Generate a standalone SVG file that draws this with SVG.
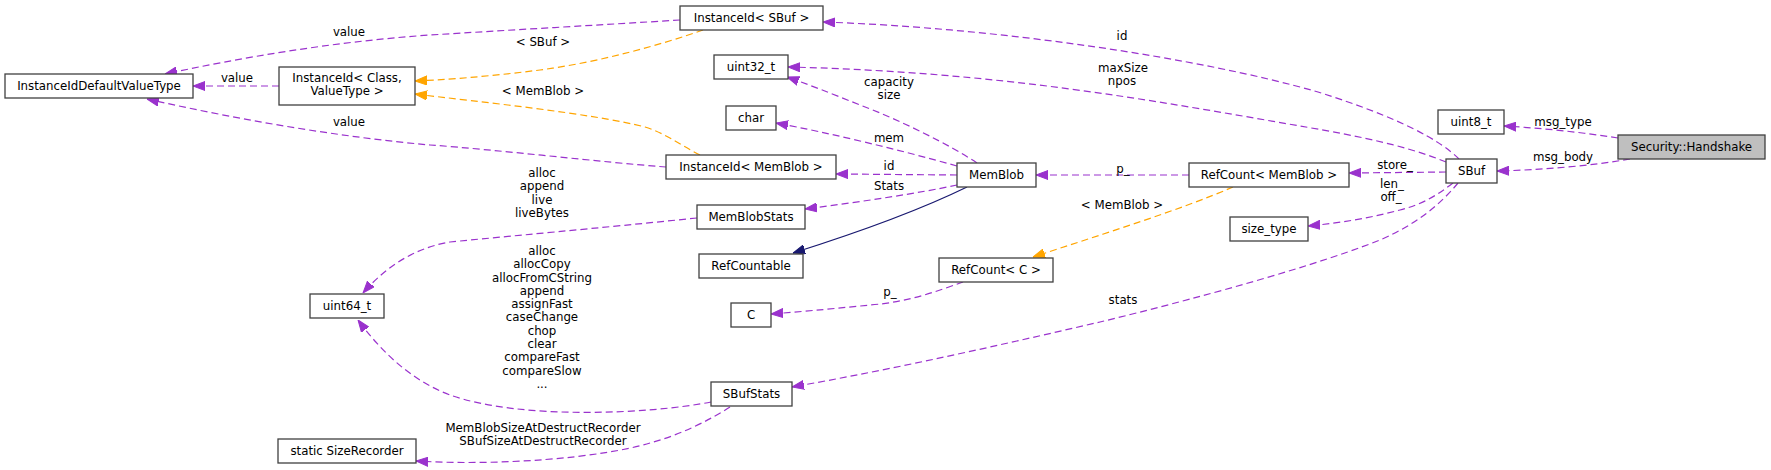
<svg xmlns="http://www.w3.org/2000/svg" width="1771" height="470" viewBox="0 0 1771 470">
<style>
text{font-family:"DejaVu Sans","Liberation Sans",sans-serif;font-size:11.8px;fill:#000;text-anchor:middle}
.n rect{fill:#fff;stroke:#404040;stroke-width:1.3}
.n.g rect{fill:#bfbfbf}
.e{fill:none;stroke:#9a32cd;stroke-width:1.2;stroke-dasharray:7,4}
.o{fill:none;stroke:#ffa500;stroke-width:1.2;stroke-dasharray:7,4}
.i{fill:none;stroke:#191970;stroke-width:1.2}
</style>
<defs>
<marker id="ap" viewBox="0 0 12 10" refX="12" refY="5" markerWidth="12" markerHeight="10" markerUnits="userSpaceOnUse" orient="auto"><path d="M0,0.5L12,5L0,9.5z" fill="#9a32cd" stroke="#9a32cd"/></marker>
<marker id="ao" viewBox="0 0 12 10" refX="12" refY="5" markerWidth="12" markerHeight="10" markerUnits="userSpaceOnUse" orient="auto"><path d="M0,0.5L12,5L0,9.5z" fill="#ffa500" stroke="#ffa500"/></marker>
<marker id="ai" viewBox="0 0 12 10" refX="12" refY="5" markerWidth="12" markerHeight="10" markerUnits="userSpaceOnUse" orient="auto"><path d="M0,0.5L12,5L0,9.5z" fill="#191970" stroke="#191970"/></marker>
</defs>
<g id="connectors">
<path class="e" marker-end="url(#ap)" d="M1618,138 C1580,132 1540,128 1504,126"/>
<text x="1563" y="126">msg_type</text>
<path class="e" marker-end="url(#ap)" d="M1630,159 C1590,166 1540,170 1497,171"/>
<text x="1563" y="161">msg_body</text>
<path class="e" marker-end="url(#ap)" d="M1459,159 C1440,140 1400,118 1318,92 C1200,58 1000,28 823,22"/>
<text x="1122" y="40">id</text>
<path class="e" marker-end="url(#ap)" d="M1446,162 C1400,143 1340,133 1300,126 C1150,100 1000,72 788,67"/>
<text x="1123" y="72">maxSize</text><text x="1122" y="85">npos</text>
<path class="e" marker-end="url(#ap)" d="M1446,172 L1349,173"/>
<text x="1395" y="169">store_</text>
<path class="e" marker-end="url(#ap)" d="M1453,183 C1435,197 1420,205 1400,210 C1370,218 1340,223 1308,226"/>
<text x="1392" y="188">len_</text><text x="1391" y="201">off_</text>
<path class="e" marker-end="url(#ap)" d="M1458,183 C1440,205 1415,225 1380,240 C1300,272 1150,310 1100,322 C1000,345 900,368 792,387"/>
<text x="1123" y="304">stats</text>
<path class="e" marker-end="url(#ap)" d="M1189,175 L1036,175"/>
<text x="1123" y="173">p_</text>
<path class="o" marker-end="url(#ao)" d="M1233,187 C1180,210 1100,235 1033,257"/>
<text x="1122" y="209">&lt; MemBlob &gt;</text>
<path class="e" marker-end="url(#ap)" d="M977,163 C950,145 900,120 860,105 C830,93 810,85 787,77"/>
<text x="889" y="86">capacity</text><text x="889" y="99">size</text>
<path class="e" marker-end="url(#ap)" d="M957,166 C900,150 830,133 776,123"/>
<text x="889" y="142">mem</text>
<path class="e" marker-end="url(#ap)" d="M957,175 L836,174"/>
<text x="889" y="170">id</text>
<path class="e" marker-end="url(#ap)" d="M957,185 C920,193 860,202 805,209"/>
<text x="889" y="190">Stats</text>
<path class="i" marker-end="url(#ai)" d="M967,187 C920,210 850,235 793,253"/>
<path class="o" marker-end="url(#ao)" d="M700,155 C680,145 665,133 645,127 C590,113 480,102 415,94"/>
<text x="543" y="95">&lt; MemBlob &gt;</text>
<path class="o" marker-end="url(#ao)" d="M703,30 C660,45 600,62 540,70 C500,75 460,79 415,81"/>
<text x="543" y="46">&lt; SBuf &gt;</text>
<path class="e" marker-end="url(#ap)" d="M680,20 C600,25 510,30 430,35 C330,42 240,58 165,74"/>
<text x="349" y="36">value</text>
<path class="e" marker-end="url(#ap)" d="M279,86 L193,86"/>
<text x="237" y="82">value</text>
<path class="e" marker-end="url(#ap)" d="M666,167 C600,162 500,150 430,145 C340,137 240,120 147,99"/>
<text x="349" y="126">value</text>
<path class="e" marker-end="url(#ap)" d="M697,218 C600,228 500,237 450,242 C420,247 390,262 363,293"/>
<text x="542" y="177">alloc</text><text x="542" y="190">append</text><text x="542" y="204">live</text><text x="542" y="217">liveBytes</text>
<path class="e" marker-end="url(#ap)" d="M711,402 C650,414 520,420 450,395 C410,380 380,350 358,320"/>
<text x="542" y="255">alloc</text><text x="542" y="268">allocCopy</text><text x="542" y="282">allocFromCString</text><text x="542" y="295">append</text><text x="542" y="308">assignFast</text><text x="542" y="321">caseChange</text><text x="542" y="335">chop</text><text x="542" y="348">clear</text><text x="542" y="361">compareFast</text><text x="542" y="375">compareSlow</text><text x="542" y="388">...</text>
<path class="e" marker-end="url(#ap)" d="M730,407 C710,420 680,435 650,443 C600,458 500,466 416,461"/>
<text x="543" y="432">MemBlobSizeAtDestructRecorder</text><text x="543" y="445">SBufSizeAtDestructRecorder</text>
<path class="e" marker-end="url(#ap)" d="M963,282 C940,290 910,302 870,305 C840,308 810,311 771,314"/>
<text x="890" y="296">p_</text>
</g>
<g id="n_handshake" class="n g"><rect x="1618" y="135" width="147" height="24"/><text x="1691.5" y="151">Security::Handshake</text></g>
<g id="n_uint8" class="n"><rect x="1438" y="110" width="66" height="24"/><text x="1471" y="126">uint8_t</text></g>
<g id="n_sbuf" class="n"><rect x="1446" y="159" width="51" height="24"/><text x="1471.5" y="175">SBuf</text></g>
<g id="n_instsbuf" class="n"><rect x="680" y="6" width="143" height="24"/><text x="751.5" y="22">InstanceId&lt; SBuf &gt;</text></g>
<g id="n_uint32" class="n"><rect x="714" y="55" width="74" height="24"/><text x="751" y="71">uint32_t</text></g>
<g id="n_char" class="n"><rect x="726" y="106" width="50" height="24"/><text x="751" y="122">char</text></g>
<g id="n_instmb" class="n"><rect x="666" y="155" width="170" height="24"/><text x="751" y="171">InstanceId&lt; MemBlob &gt;</text></g>
<g id="n_mbstats" class="n"><rect x="697" y="205" width="108" height="24"/><text x="751" y="221">MemBlobStats</text></g>
<g id="n_refcountable" class="n"><rect x="699" y="254" width="104" height="24"/><text x="751" y="270">RefCountable</text></g>
<g id="n_c" class="n"><rect x="731" y="303" width="40" height="24"/><text x="751" y="319">C</text></g>
<g id="n_memblob" class="n"><rect x="957" y="163" width="79" height="24"/><text x="996.5" y="179">MemBlob</text></g>
<g id="n_rcmb" class="n"><rect x="1189" y="163" width="160" height="24"/><text x="1269" y="179">RefCount&lt; MemBlob &gt;</text></g>
<g id="n_rcc" class="n"><rect x="939" y="258" width="114" height="24"/><text x="996" y="274">RefCount&lt; C &gt;</text></g>
<g id="n_sizetype" class="n"><rect x="1230" y="217" width="78" height="24"/><text x="1269" y="233">size_type</text></g>
<g id="n_defval" class="n"><rect x="5" y="74" width="188" height="24"/><text x="99" y="90">InstanceIdDefaultValueType</text></g>
<g id="n_instcv" class="n"><rect x="279" y="67" width="136" height="38"/><text x="347" y="82">InstanceId&lt; Class,</text><text x="347" y="95">ValueType &gt;</text></g>
<g id="n_uint64" class="n"><rect x="310" y="294" width="74" height="24"/><text x="347" y="310">uint64_t</text></g>
<g id="n_sbufstats" class="n"><rect x="711" y="382" width="81" height="24"/><text x="751.5" y="398">SBufStats</text></g>
<g id="n_sizerec" class="n"><rect x="278" y="439" width="138" height="24"/><text x="347" y="455">static SizeRecorder</text></g>
</svg>
